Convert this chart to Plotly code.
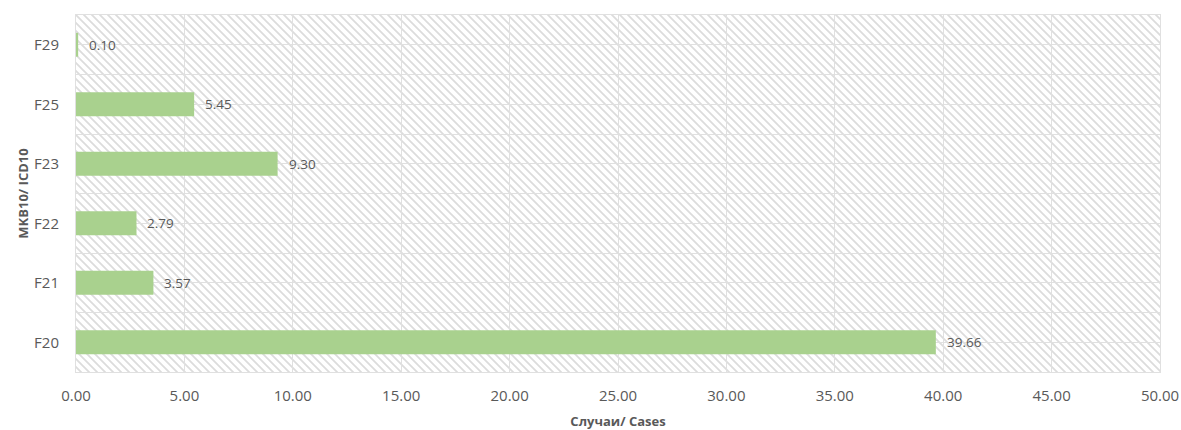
import base64
import plotly.graph_objects as go

categories = ["F20", "F21", "F22", "F23", "F25", "F29"]
values = [39.66, 3.57, 2.79, 9.30, 5.45, 0.10]
x_title = "Случаи/ Cases"
y_title = "MKB10/ ICD10"

W, H = 1181, 430
ML, MR, MT, MB = 76, 21, 15, 58
PW, PH = W - ML - MR, H - MT - MB

# diagonal hatch background for the plot area
svg = f'''<svg xmlns="http://www.w3.org/2000/svg" width="{PW}" height="{PH}">
<defs><pattern id="p" patternUnits="userSpaceOnUse" width="8" height="8">
<path d="M-2,-2 L10,10 M-2,6 L2,10 M6,-2 L10,2" stroke="#dcdcdc" stroke-width="1.8"/>
</pattern></defs>
<rect width="100%" height="100%" fill="white"/>
<rect width="100%" height="100%" fill="url(#p)"/>
</svg>'''
src = "data:image/svg+xml;base64," + base64.b64encode(svg.encode()).decode()

pos = list(range(len(categories)))

fig = go.Figure()
fig.add_trace(go.Bar(
    x=values, y=pos, orientation="h", width=0.4,
    marker=dict(color="#a9d18e", line=dict(width=0)),
    hoverinfo="x+y",
))
for p, v in zip(pos, values):
    fig.add_annotation(x=v, y=p, text=f"{v:.2f}", showarrow=False,
                       xanchor="left", xshift=9, yshift=0,
                       font=dict(family="Open Sans", size=13.5, color="#595959"))

fig.add_layout_image(dict(source=src, xref="paper", yref="paper", x=0, y=1,
                          sizex=1, sizey=1, xanchor="left", yanchor="top",
                          sizing="stretch", layer="below"))

fig.update_layout(
    width=W, height=H, margin=dict(l=ML, r=MR, t=MT, b=MB),
    paper_bgcolor="white", plot_bgcolor="rgba(0,0,0,0)",
    showlegend=False,
    font=dict(family="Open Sans", color="#595959"),
    xaxis=dict(range=[0, 50], dtick=5, tick0=0, tickformat=".2f",
               automargin=False, ticklabeloverflow="allow",
               showgrid=True, gridcolor="#e0e0e0", gridwidth=1,
               showline=True, mirror=True, linecolor="#e0e0e0",
               zeroline=False, ticks="", ticklabelstandoff=10,
               tickfont=dict(size=15, color="#595959"),
               title=dict(text=f"<b>{x_title}</b>", font=dict(size=13, color="#595959"), standoff=12)),
    yaxis=dict(range=[-0.5, 5.5], tickmode="array", tickvals=pos, ticktext=categories,
               automargin=False,
               showgrid=True, gridcolor="#e0e0e0", gridwidth=1,
               minor=dict(tickmode="linear", tick0=0.5, dtick=1, showgrid=True,
                          gridcolor="#e0e0e0", gridwidth=1),
               showline=True, mirror=True, linecolor="#e0e0e0",
               zeroline=False, ticks="", ticklabelstandoff=13,
               tickfont=dict(size=15, color="#595959"),
               title=dict(text=f"<b>{y_title}</b>", font=dict(size=13, color="#595959"), standoff=2)),
)

# remove the default 8px page margin so the figure fills the window exactly
fig.write_html("out.html", config={"displayModeBar": False},
               post_script="document.body.style.margin='0';document.body.style.overflow='hidden';")
